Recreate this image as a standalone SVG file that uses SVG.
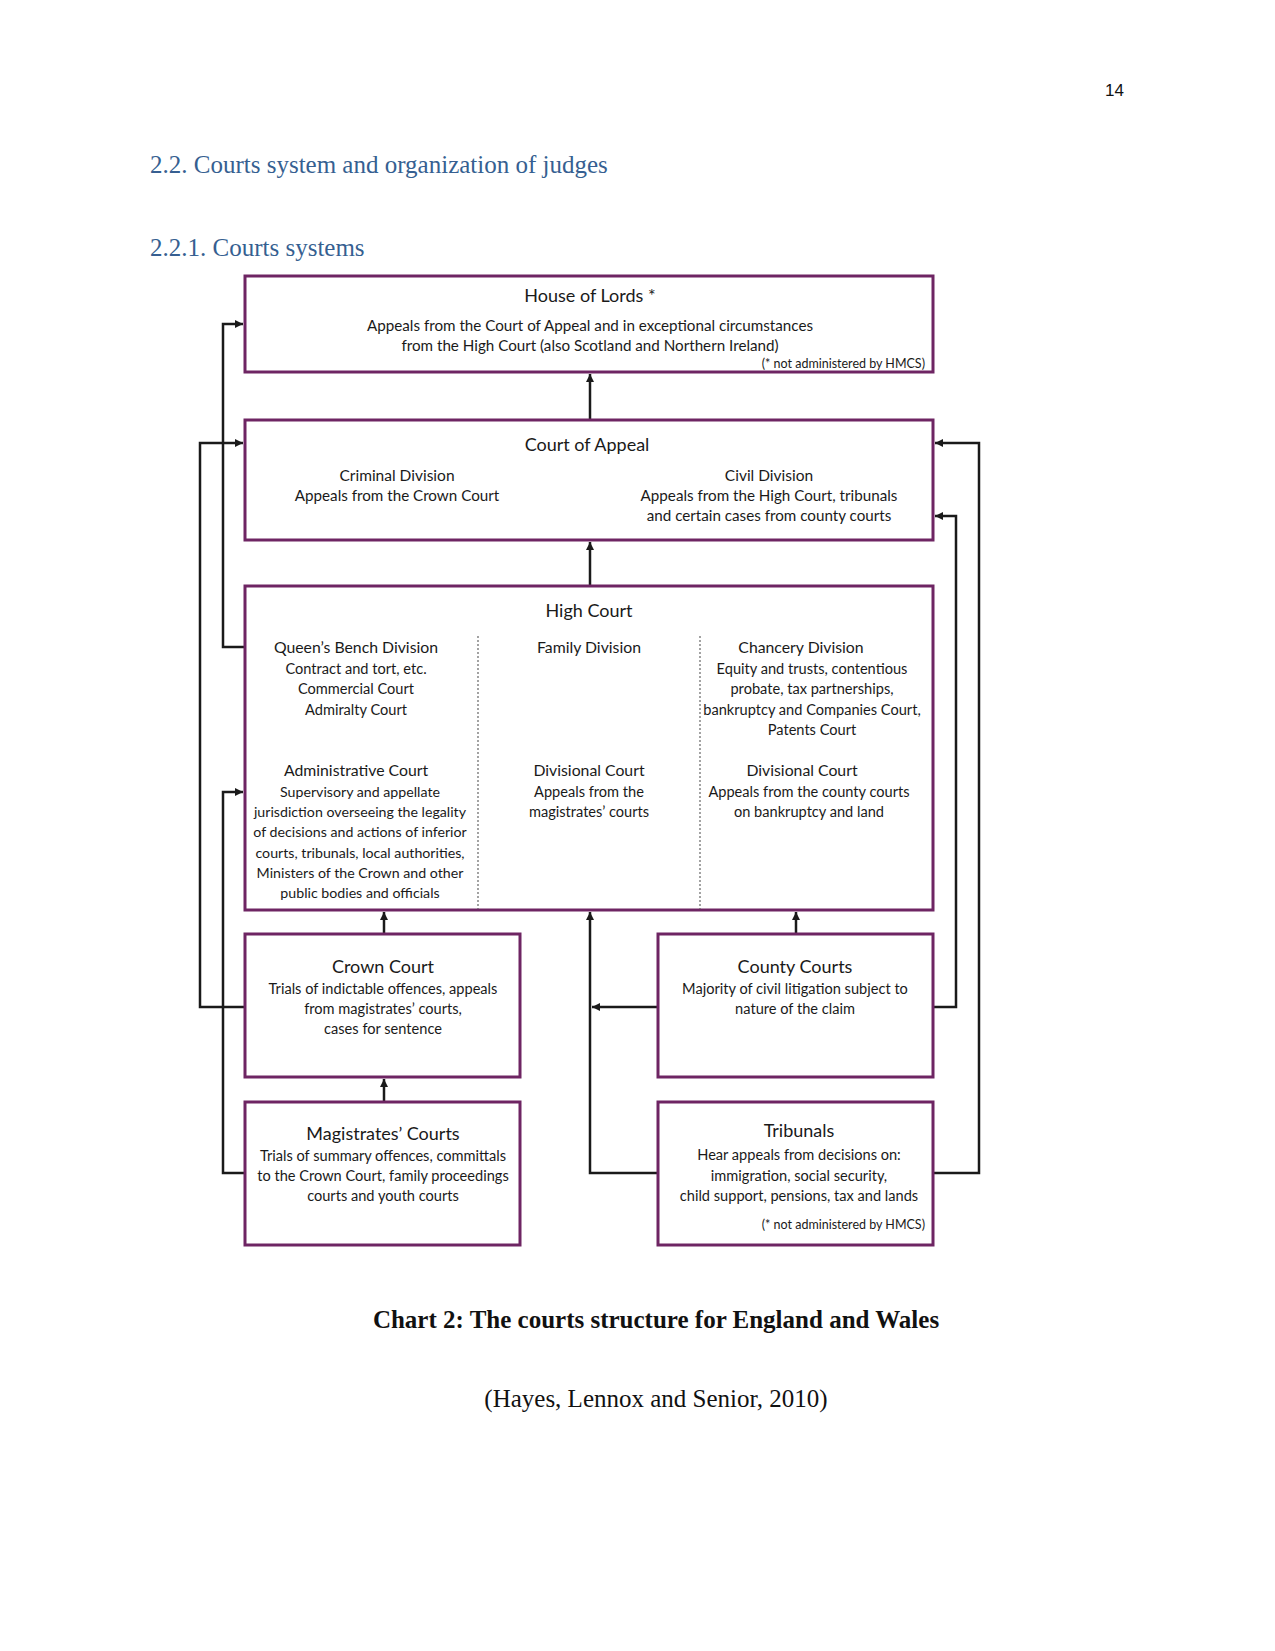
<svg xmlns="http://www.w3.org/2000/svg" width="1275" height="1651" viewBox="0 0 1275 1651">
<style>
.box{fill:#fff;stroke:#6e2563;stroke-width:3}
.con{fill:none;stroke:#1a1a1a;stroke-width:2.5}
.div{stroke:#666;stroke-width:1.2;stroke-dasharray:2 2}
.t{font-family:Lato,"Open Sans","Liberation Sans",sans-serif;fill:#1a1a1a;text-anchor:middle}
.h{font-size:18px}
.s{font-size:14.6px}
.n{font-size:12.5px;text-anchor:end}
.hd{font-family:"Liberation Serif",serif;font-size:25px;fill:#365f91}
</style>
<defs>
<marker id="ah" markerWidth="9" markerHeight="9" refX="8" refY="4.5" orient="auto" markerUnits="userSpaceOnUse">
<path d="M0,0.5 L8,4.5 L0,8.5 Z" fill="#1a1a1a"/>
</marker>
</defs>
<rect width="1275" height="1651" fill="#fff"/>
<text x="1124" y="96" font-family="Liberation Sans Narrow,Liberation Sans,sans-serif" font-size="17" text-anchor="end" fill="#111">14</text>
<text class="hd" x="150" y="173">2.2. Courts system and organization of judges</text>
<text class="hd" x="150" y="256">2.2.1. Courts systems</text>

<g id="connectors">
<path class="con" d="M590,420 V374" marker-end="url(#ah)"/>
<path class="con" d="M590,586 V542" marker-end="url(#ah)"/>
<path class="con" d="M245,647 H223 V324 H243" marker-end="url(#ah)"/>
<path class="con" d="M245,1007 H200 V443 H243" marker-end="url(#ah)"/>
<path class="con" d="M245,1173 H223 V792 H243" marker-end="url(#ah)"/>
<path class="con" d="M384,934 V912" marker-end="url(#ah)"/>
<path class="con" d="M384,1102 V1079" marker-end="url(#ah)"/>
<path class="con" d="M796,934 V912" marker-end="url(#ah)"/>
<path class="con" d="M658,1173 H590 V912" marker-end="url(#ah)"/>
<path class="con" d="M658,1007 H592" marker-end="url(#ah)"/>
<path class="con" d="M933,1007 H956 V516 H935" marker-end="url(#ah)"/>
<path class="con" d="M933,1173 H979 V443 H935" marker-end="url(#ah)"/>
</g>

<g id="house-of-lords">
<rect class="box" x="245" y="276" width="688" height="96"/>
<text class="t h" x="590" y="302">House of Lords *</text>
<text class="t s" x="590" y="331" style="font-size:15.2px">Appeals from the Court of Appeal and in exceptional circumstances</text>
<text class="t s" x="590" y="351" style="font-size:15.2px">from the High Court (also Scotland and Northern Ireland)</text>
<text class="t n" x="925" y="368">(* not administered by HMCS)</text>
</g>

<g id="court-of-appeal">
<rect class="box" x="245" y="420" width="688" height="120"/>
<text class="t h" x="587" y="451">Court of Appeal</text>
<text class="t s" x="397" y="481" style="font-size:15.5px">Criminal Division</text>
<text class="t s" x="397" y="501" style="font-size:15.2px">Appeals from the Crown Court</text>
<text class="t s" x="769" y="481" style="font-size:15.5px">Civil Division</text>
<text class="t s" x="769" y="501" style="font-size:15.2px">Appeals from the High Court, tribunals</text>
<text class="t s" x="769" y="521" style="font-size:15.2px">and certain cases from county courts</text>
</g>

<g id="high-court">
<rect class="box" x="245" y="586" width="688" height="324"/>
<line class="div" x1="478" y1="636" x2="478" y2="909"/>
<line class="div" x1="700" y1="636" x2="700" y2="909"/>
<text class="t h" x="589" y="617">High Court</text>
<text class="t s" x="356" y="653" style="font-size:15.8px">Queen’s Bench Division</text>
<text class="t s" x="356" y="674">Contract and tort, etc.</text>
<text class="t s" x="356" y="694">Commercial Court</text>
<text class="t s" x="356" y="715">Admiralty Court</text>
<text class="t s" x="589" y="653" style="font-size:15.8px">Family Division</text>
<text class="t s" x="801" y="653" style="font-size:15.8px">Chancery Division</text>
<text class="t s" x="812" y="674">Equity and trusts, contentious</text>
<text class="t s" x="812" y="694">probate, tax partnerships,</text>
<text class="t s" x="812" y="715">bankruptcy and Companies Court,</text>
<text class="t s" x="812" y="735">Patents Court</text>
<text class="t s" x="356" y="776" style="font-size:15.8px">Administrative Court</text>
<text class="t s" x="360" y="797" style="font-size:14.2px">Supervisory and appellate</text>
<text class="t s" x="360" y="817" style="font-size:14.2px">jurisdiction overseeing the legality</text>
<text class="t s" x="360" y="837" style="font-size:14.2px">of decisions and actions of inferior</text>
<text class="t s" x="360" y="858" style="font-size:14.2px">courts, tribunals, local authorities,</text>
<text class="t s" x="360" y="878" style="font-size:14.2px">Ministers of the Crown and other</text>
<text class="t s" x="360" y="898" style="font-size:14.2px">public bodies and officials</text>
<text class="t s" x="589" y="776" style="font-size:15.8px">Divisional Court</text>
<text class="t s" x="589" y="797">Appeals from the</text>
<text class="t s" x="589" y="817">magistrates’ courts</text>
<text class="t s" x="802" y="776" style="font-size:15.8px">Divisional Court</text>
<text class="t s" x="809" y="797">Appeals from the county courts</text>
<text class="t s" x="809" y="817">on bankruptcy and land</text>
</g>

<g id="crown-court">
<rect class="box" x="245" y="934" width="275" height="143"/>
<text class="t h" x="383" y="973">Crown Court</text>
<text class="t s" x="383" y="994">Trials of indictable offences, appeals</text>
<text class="t s" x="383" y="1014">from magistrates’ courts,</text>
<text class="t s" x="383" y="1034">cases for sentence</text>
</g>

<g id="county-courts">
<rect class="box" x="658" y="934" width="275" height="143"/>
<text class="t h" x="795" y="973">County Courts</text>
<text class="t s" x="795" y="994">Majority of civil litigation subject to</text>
<text class="t s" x="795" y="1014">nature of the claim</text>
</g>

<g id="magistrates-courts">
<rect class="box" x="245" y="1102" width="275" height="143"/>
<text class="t h" x="383" y="1140">Magistrates’ Courts</text>
<text class="t s" x="383" y="1161">Trials of summary offences, committals</text>
<text class="t s" x="383" y="1181">to the Crown Court, family proceedings</text>
<text class="t s" x="383" y="1201">courts and youth courts</text>
</g>

<g id="tribunals">
<rect class="box" x="658" y="1102" width="275" height="143"/>
<text class="t h" x="799" y="1137">Tribunals</text>
<text class="t s" x="799" y="1160">Hear appeals from decisions on:</text>
<text class="t s" x="799" y="1181">immigration, social security,</text>
<text class="t s" x="799" y="1201">child support, pensions, tax and lands</text>
<text class="t n" x="925" y="1229">(* not administered by HMCS)</text>
</g>

<text x="656" y="1328" font-family="Liberation Serif,serif" font-size="25" font-weight="bold" text-anchor="middle" fill="#111">Chart 2: The courts structure for England and Wales</text>
<text x="656" y="1407" font-family="Liberation Serif,serif" font-size="25" text-anchor="middle" fill="#111">(Hayes, Lennox and Senior, 2010)</text>
</svg>
